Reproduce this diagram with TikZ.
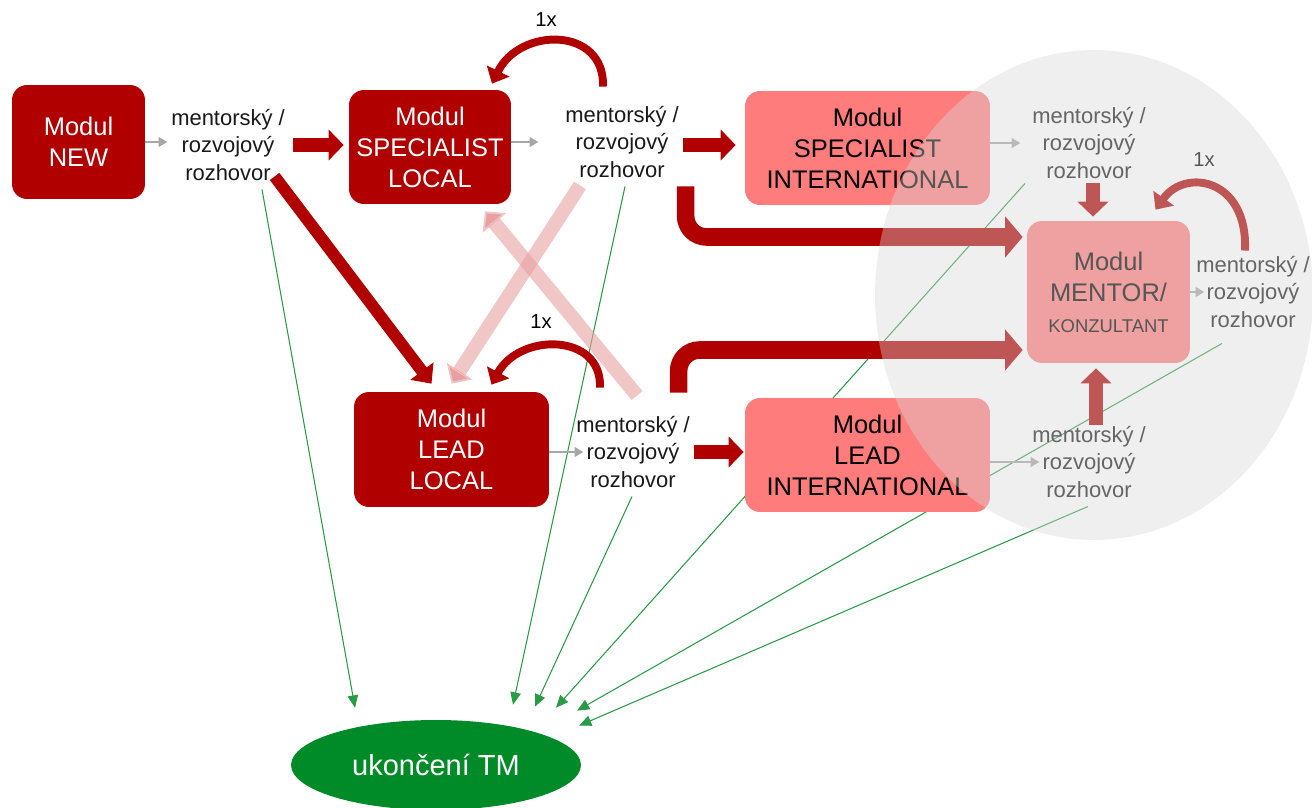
\documentclass[tikz,border=0pt]{standalone}
\usepackage{fontspec}
\setmainfont{Liberation Sans}
\usetikzlibrary{calc,arrows.meta,shapes.geometric}

\definecolor{modred}{RGB}{176,0,0}
\definecolor{modpink}{RGB}{255,124,124}
\definecolor{tmgreen}{RGB}{0,138,40}
\definecolor{linegreen}{RGB}{40,155,70}
\definecolor{tipgray}{RGB}{166,166,166}
\definecolor{crosspink}{RGB}{232,160,160}
\definecolor{cloudgray}{RGB}{215,215,215}

\pgfdeclarelayer{back}
\pgfdeclarelayer{front}
\pgfsetlayers{back,main,front}

\tikzset{
    localbox/.style={rectangle, rounded corners=0.3cm, fill=modred, text=white, align=center, font=\fontsize{14.5}{17.6}\selectfont, inner sep=0pt},
    intbox/.style={localbox, fill=modpink, text=black},
    talk/.style={align=center, font=\fontsize{12.5}{15.6}\selectfont, inner sep=2pt, text=black!90},
    once/.style={font=\fontsize{11.5}{14}\selectfont, inner sep=1pt},
    tinyarrow/.style={draw=tipgray, line width=1.2pt, -{Triangle[width=5.5pt,length=5pt]}},
    bigarrow/.style={draw=modred, line width=7.9pt, -{Triangle[width=17pt,length=8.5pt]}},
    bendarrow/.style={draw=modred, line width=10pt, rounded corners=12pt, -{Triangle[width=23pt,length=10pt]}},
    diagarrow/.style={draw=modred, line width=6.8pt, -{Triangle[width=16pt,length=9pt]}},
    crossarrow/.style={draw=crosspink, draw opacity=0.6, line width=8pt, -{Triangle[width=17pt,length=8.5pt]}},
    looparrow/.style={draw=modred, line width=4.5pt, -{Triangle[width=14pt,length=8pt]}},
    exitline/.style={draw=linegreen, line width=0.6pt, -{Triangle[width=6pt,length=7pt]}}
}

\begin{document}
\begin{tikzpicture}[x=0.02cm,y=-0.02cm]

            \useasboundingbox (0,0) rectangle (1312,808);

            \node (new) [localbox, minimum width=2.66cm, minimum height=2.28cm] at (78.5,142) {Modul\\NEW};
            \node (slocal) [localbox, minimum width=3.24cm, minimum height=2.28cm] at (430,147) {Modul\\SPECIALIST\\LOCAL};
            \node (llocal) [localbox, minimum width=3.9cm, minimum height=2.3cm] at (451.5,449.5) {Modul\\LEAD\\LOCAL};
            \node (sint) [intbox, minimum width=4.9cm, minimum height=2.28cm] at (867.5,148) {Modul\\SPECIALIST\\INTERNATIONAL};
            \node (lint) [intbox, minimum width=4.9cm, minimum height=2.28cm] at (867.5,455) {Modul\\LEAD\\INTERNATIONAL};
            \node (mentor) [intbox, minimum width=3.26cm, minimum height=2.84cm] at (1108.5,292) {Modul\\MENTOR/\\{\fontsize{10.5}{17}\selectfont KONZULTANT}};

            \node (talk1) [talk] at (228,145) {mentorský /\\rozvojový\\rozhovor};
            \node (talk2) [talk] at (622,142) {mentorský /\\rozvojový\\rozhovor};
            \node (talk3) [talk] at (1089,143) {mentorský /\\rozvojový\\rozhovor};
            \node (talk4) [talk] at (1253,292) {mentorský /\\rozvojový\\rozhovor};
            \node (talk5) [talk] at (1089,462) {mentorský /\\rozvojový\\rozhovor};
            \node (talk6) [talk] at (633,452) {mentorský /\\rozvojový\\rozhovor};

            \node (tm) [ellipse, fill=tmgreen, text=white, minimum width=5.8cm, minimum height=1.8cm, font=\fontsize{16.5}{20}\selectfont] at (436,765) {ukončení TM};

            \node (once1) [once] at (546,20) {1x};
            \node (once2) [once] at (541,322) {1x};
            \node (once3) [once] at (1204,160) {1x};

            \draw[tinyarrow] (new.east) -- (new.east -| talk1.west);
            \draw[tinyarrow] (slocal.east |- talk2.west) -- ($(talk2.west)+(-23,0)$);
            \draw[tinyarrow] (sint.east |- talk3.west) -- ($(talk3.west)+(-8,0)$);
            \draw[tinyarrow] (mentor.east) -- ($(mentor.east -| talk4.west)+(12,0)$);
            \draw[tinyarrow] (llocal.east |- talk6.west) -- ($(talk6.west)+(11,0)$);
            \draw[tinyarrow] (lint.east |- talk5.west) -- ($(talk5.west)+(11,0)$);

            \draw[bigarrow] ($(talk1.east)+(4,0)$) -- ($(talk1.east -| slocal.west)+(-5,0)$);
            \draw[bigarrow] ($(talk2.east)+(0,3)$) -- ($(talk2.east -| sint.west)+(-9,3)$);
            \draw[bigarrow] (talk6.east) -- ($(talk6.east -| lint.west)+(-1,0)$);
            \draw[bigarrow] ($(talk3.south)+(4,1)$) -- ($(talk3.south |- mentor.north)+(4,-4)$);
            \draw[bigarrow] ($(talk5.north)+(7,2)$) -- ($(talk5.north |- mentor.south)+(7,5)$);

            \draw[bendarrow] ($(talk2.south east)+(3,5)$) |- ($(mentor.west)+(-4,-55)$);
            \draw[bendarrow] ($(talk6.north east)+(-15,-20)$) |- ($(mentor.west)+(-4,58)$);

            \draw[diagarrow] ($(talk1.south east)+(-14,-8)$) -- ($(llocal.north)+(-20,-8)$);
            \draw[crossarrow] ($(talk2.south)+(-42,4)$) -- ($(llocal.north)+(0,-8)$);
            \draw[crossarrow] ($(talk6.north)+(4,-17)$) -- ($(slocal.south)+(55,7)$);

            \draw[looparrow] ($(talk2.north)+(-19,-16)$) .. controls +(2,-60) and +(28,-57) .. ($(slocal.north)+(62,-6)$);
            \draw[looparrow] ($(talk6.north)+(-33,-25)$) .. controls +(2,-55) and +(28,-52) .. ($(llocal.north)+(40,-7)$);
            \draw[looparrow] ($(talk4.north)+(-8,-2)$) .. controls +(3,-72) and +(30,-42) .. ($(mentor.north)+(47,-11)$);

            \begin{pgfonlayer}{back}
                \draw[exitline] ($(talk1.south)+(34,5)$) -- ($(tm.north)+(-81,-12)$);
                \draw[exitline] ($(talk2.south)+(3,5)$) -- ($(tm.north)+(77,-15)$);
                \draw[exitline] ($(talk6.south)+(-1,5)$) -- ($(tm.north)+(99,-13)$);
                \draw[exitline] ($(talk3.south)+(-64,1)$) -- ($(tm.north)+(120,-12)$);
                \draw[exitline] ($(talk4.south)+(-31,12)$) -- ($(tm.north)+(141,-9)$);
                \draw[exitline] ($(talk5.south)+(-1,5)$) -- ($(tm.north)+(143,6)$);
            \end{pgfonlayer}

            \begin{pgfonlayer}{front}
                \node (cloud) [ellipse, fill=cloudgray, fill opacity=0.4, minimum width=8.76cm, minimum height=9.8cm] at (1094,295) {};
            \end{pgfonlayer}

        \end{tikzpicture}
\end{document}
